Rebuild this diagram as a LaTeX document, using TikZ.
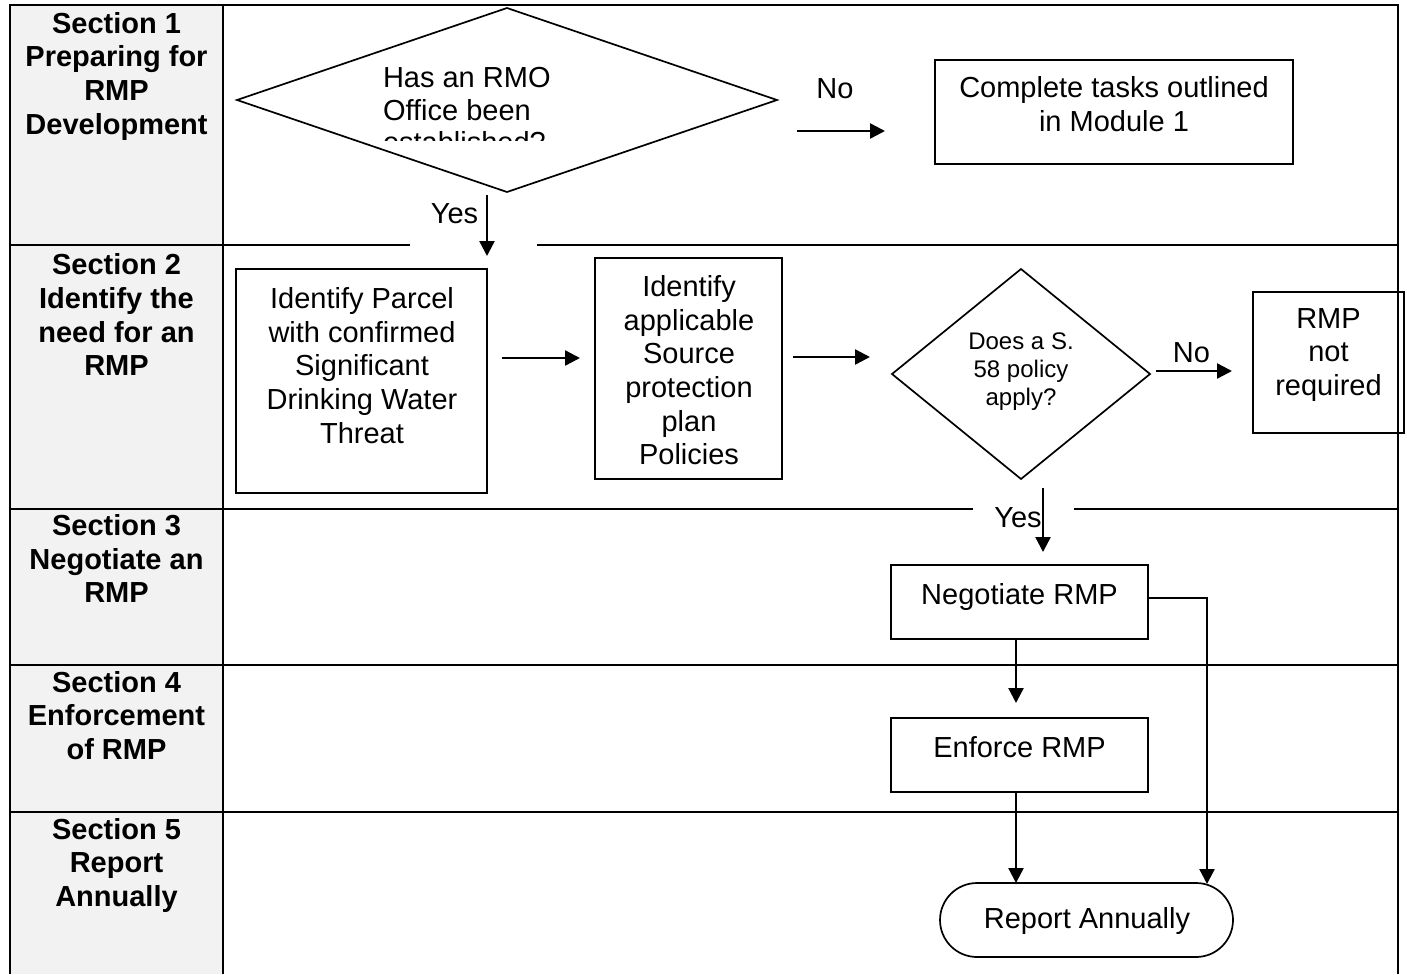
\documentclass[tikz,border=0pt]{standalone}
\usepackage{fontspec}
\setmainfont{Liberation Sans}
\usetikzlibrary{shapes.geometric,arrows.meta}
\definecolor{lanegray}{HTML}{F2F2F2}
\begin{document}
\begin{tikzpicture}[x=1pt,y=-1pt,
  every node/.style={inner sep=0pt, outer sep=0pt},
  grid/.style={line width=2.8pt},
  stepbox/.style={draw, line width=1.7pt, rectangle},
  decision/.style={draw, line width=1.7pt, diamond},
  txt/.style={font=\fontsize{29}{33.6}\selectfont, align=center,
    execute at begin node=\strut, execute at end node=\strut},
  lanelbl/.style={txt, font=\fontsize{29}{33.6}\selectfont\bfseries},
  smalltxt/.style={txt, font=\fontsize{24}{27.6}\selectfont},
  arr/.style={line width=2.4pt, -{Triangle[length=15pt,width=15pt]}}]

\useasboundingbox (0,0) rectangle (1407,974);

% swimlane table
\fill[lanegray] (10,5) rectangle (223,974);
\draw[grid] (10,974) -- (10,5) -- (1398,5) -- (1398,974);
\draw[grid] (223,5) -- (223,974);
\draw[grid] (10,245) -- (410,245);
\draw[grid] (537,245) -- (1398,245);
\draw[grid] (10,509) -- (973,509);
\draw[grid] (1074,509) -- (1398,509);
\draw[grid] (10,665) -- (1398,665);
\draw[grid] (10,812) -- (1398,812);

% lane titles
\node[lanelbl] (s1) at (116.5,78.3) {Section 1\\Preparing for\\RMP\\Development};
\node[lanelbl] (s2) at (116.5,319.8) {Section 2\\Identify the\\need for an\\RMP};
\node[lanelbl] (s3) at (116.5,563.8) {Section 3\\Negotiate an\\RMP};
\node[lanelbl] (s4) at (116.5,720.3) {Section 4\\Enforcement\\of RMP};
\node[lanelbl] (s5) at (116.5,867.3) {Section 5\\Report\\Annually};

% section 1
\node[decision, minimum width=540pt, minimum height=184pt] (q1) at (507,100) {};
\begin{scope}
  \clip (300,0) rectangle (760,140);
  \node[font=\fontsize{29}{32.5}\selectfont, align=left, anchor=north west]
    (q1t) at (383,65) {\strut Has an RMO\\Office been\\established?};
\end{scope}
\node[stepbox, minimum width=358pt, minimum height=104pt] (mod1) at (1114,112) {};
\node[txt] (mod1t) at (1114,108.8) {Complete tasks outlined\\in Module 1};

% section 2
\node[stepbox, minimum width=251pt, minimum height=224pt] (parcel) at (361.5,381) {};
\node[txt] (parcelt) at (362,370.5) {Identify Parcel\\with confirmed\\Significant\\Drinking Water\\Threat};
\node[stepbox, minimum width=187pt, minimum height=221pt] (pol) at (688.5,368.5) {};
\node[txt] (polt) at (689,375.3) {Identify\\applicable\\Source\\protection\\plan\\Policies};
\node[decision, minimum width=258pt, minimum height=210pt] (q2) at (1021,374) {};
\node[smalltxt] (q2t) at (1021,373.3) {Does a S.\\58 policy\\apply?};
\node[stepbox, minimum width=151pt, minimum height=141pt] (notreq) at (1328.5,362.5) {};
\node[txt] (notreqt) at (1328.5,356.9) {RMP\\not\\required};

% sections 3 to 5
\node[stepbox, minimum width=257pt, minimum height=74pt] (neg) at (1019.5,602) {};
\node[txt] (negt) at (1019.5,597.3) {Negotiate RMP};
\node[stepbox, minimum width=257pt, minimum height=74pt] (enf) at (1019.5,755) {};
\node[txt] (enft) at (1019.5,750.8) {Enforce RMP};
\node[draw, line width=1.7pt, rectangle, rounded corners=37pt,
  minimum width=293pt, minimum height=74pt] (rep) at (1086.5,920) {};
\node[txt] (rept) at (1087,921.8) {Report Annually};

% branch labels
\node[txt] (yes1) at (454.5,216.3) {Yes};
\node[txt] (no1) at (835,91.3) {No};
\node[txt] (no2) at (1191.5,355.3) {No};
\node[txt] (yes2) at (1018,520.8) {Yes};

% connector ends
\coordinate (a1) at (797,131);   \coordinate (b1) at (885,131);
\coordinate (a2) at (487,195);   \coordinate (b2) at (487,256);
\coordinate (a3) at (502,358);   \coordinate (b3) at (580,358);
\coordinate (a4) at (793,357);   \coordinate (b4) at (870,357);
\coordinate (a5) at (1156,371);  \coordinate (b5) at (1232,371);
\coordinate (a6) at (1043,488);  \coordinate (b6) at (1043,552);
\coordinate (b7) at (1016,703);
\coordinate (b8) at (1016,883);
\coordinate (b9) at (1207,884);

\draw[arr] (a1) -- (b1);
\draw[arr] (a2) -- (b2);
\draw[arr] (a3) -- (b3);
\draw[arr] (a4) -- (b4);
\draw[arr] (a5) -- (b5);
\draw[arr] (a6) -- (b6);
\draw[arr] (neg.south -| b7) -- (b7);
\draw[arr] (enf.south -| b8) -- (b8);
\draw[arr] ([yshift=4pt]neg.east) -| (b9);
\end{tikzpicture}
\end{document}
